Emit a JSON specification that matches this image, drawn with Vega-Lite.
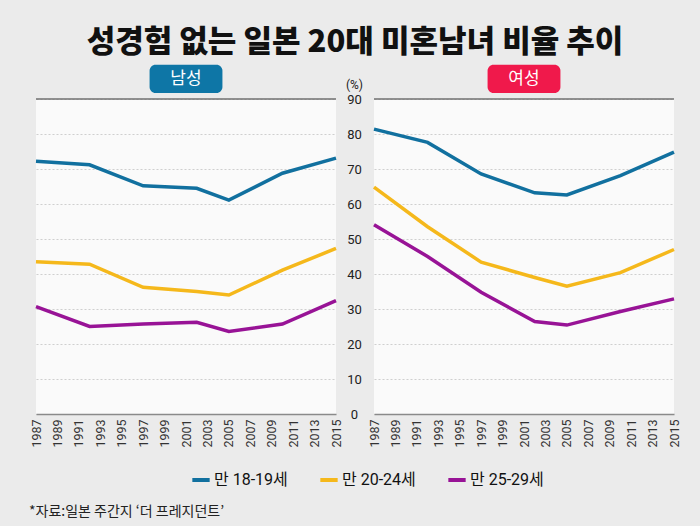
{
  "$schema": "https://vega.github.io/schema/vega-lite/v6.json",
  "background": "#ebebeb",
  "padding": {"left": 29, "top": 26, "right": 20, "bottom": 8},
  "datasets": {
    "rates": [
      {"sex": "남성", "age": "만 18-19세", "year": 1987, "value": 72.2},
      {"sex": "남성", "age": "만 18-19세", "year": 1992, "value": 71.2},
      {"sex": "남성", "age": "만 18-19세", "year": 1997, "value": 65.2},
      {"sex": "남성", "age": "만 18-19세", "year": 2002, "value": 64.5},
      {"sex": "남성", "age": "만 18-19세", "year": 2005, "value": 61.1},
      {"sex": "남성", "age": "만 18-19세", "year": 2010, "value": 68.8},
      {"sex": "남성", "age": "만 18-19세", "year": 2015, "value": 73.1},
      {"sex": "남성", "age": "만 20-24세", "year": 1987, "value": 43.5},
      {"sex": "남성", "age": "만 20-24세", "year": 1992, "value": 42.8},
      {"sex": "남성", "age": "만 20-24세", "year": 1997, "value": 36.2},
      {"sex": "남성", "age": "만 20-24세", "year": 2002, "value": 35.0},
      {"sex": "남성", "age": "만 20-24세", "year": 2005, "value": 34.0},
      {"sex": "남성", "age": "만 20-24세", "year": 2010, "value": 41.1},
      {"sex": "남성", "age": "만 20-24세", "year": 2015, "value": 47.3},
      {"sex": "남성", "age": "만 25-29세", "year": 1987, "value": 30.7},
      {"sex": "남성", "age": "만 25-29세", "year": 1992, "value": 25.0},
      {"sex": "남성", "age": "만 25-29세", "year": 1997, "value": 25.7},
      {"sex": "남성", "age": "만 25-29세", "year": 2002, "value": 26.2},
      {"sex": "남성", "age": "만 25-29세", "year": 2005, "value": 23.6},
      {"sex": "남성", "age": "만 25-29세", "year": 2010, "value": 25.7},
      {"sex": "남성", "age": "만 25-29세", "year": 2015, "value": 32.4},
      {"sex": "여성", "age": "만 18-19세", "year": 1987, "value": 81.4},
      {"sex": "여성", "age": "만 18-19세", "year": 1992, "value": 77.6},
      {"sex": "여성", "age": "만 18-19세", "year": 1997, "value": 68.6},
      {"sex": "여성", "age": "만 18-19세", "year": 2002, "value": 63.2},
      {"sex": "여성", "age": "만 18-19세", "year": 2005, "value": 62.6},
      {"sex": "여성", "age": "만 18-19세", "year": 2010, "value": 68.1},
      {"sex": "여성", "age": "만 18-19세", "year": 2015, "value": 74.8},
      {"sex": "여성", "age": "만 20-24세", "year": 1987, "value": 64.8},
      {"sex": "여성", "age": "만 20-24세", "year": 1992, "value": 53.5},
      {"sex": "여성", "age": "만 20-24세", "year": 1997, "value": 43.4},
      {"sex": "여성", "age": "만 20-24세", "year": 2002, "value": 39.0},
      {"sex": "여성", "age": "만 20-24세", "year": 2005, "value": 36.5},
      {"sex": "여성", "age": "만 20-24세", "year": 2010, "value": 40.4},
      {"sex": "여성", "age": "만 20-24세", "year": 2015, "value": 47.0},
      {"sex": "여성", "age": "만 25-29세", "year": 1987, "value": 54.1},
      {"sex": "여성", "age": "만 25-29세", "year": 1992, "value": 45.0},
      {"sex": "여성", "age": "만 25-29세", "year": 1997, "value": 34.8},
      {"sex": "여성", "age": "만 25-29세", "year": 2002, "value": 26.4},
      {"sex": "여성", "age": "만 25-29세", "year": 2005, "value": 25.4},
      {"sex": "여성", "age": "만 25-29세", "year": 2010, "value": 29.3},
      {"sex": "여성", "age": "만 25-29세", "year": 2015, "value": 32.9}
    ],
    "male_badge": [{"label": "남성"}],
    "female_badge": [{"label": "여성"}]
  },
  "title": {
    "text": "*자료:일본 주간지 ‘더 프레지던트’",
    "orient": "bottom",
    "anchor": "start",
    "fontSize": 14,
    "fontWeight": "normal",
    "color": "#222222",
    "offset": 17
  },
  "vconcat": [
    {
      "title": {
        "text": "성경험 없는 일본 20대 미혼남녀 비율 추이",
        "fontSize": 31,
        "fontWeight": 900,
        "color": "#111111",
        "anchor": "middle",
        "offset": 6
      },
      "bounds": "flush",
      "spacing": 38,
      "hconcat": [
        {
          "width": 300,
          "height": 315,
          "layer": [
            {
              "data": {"name": "rates"},
              "transform": [{"filter": "datum.sex === '남성'"}],
              "mark": {"type": "line", "strokeWidth": 3.5},
              "encoding": {
                "x": {
                  "field": "year",
                  "type": "quantitative",
                  "scale": {"domain": [1987, 2015], "nice": false, "zero": false},
                  "axis": {
                    "title": null,
                    "values": [1987, 1989, 1991, 1993, 1995, 1997, 1999, 2001, 2003, 2005, 2007, 2009, 2011, 2013, 2015],
                    "tickCount": 30,
                    "format": "d",
                    "labelAngle": 270,
                    "labelOverlap": false,
                    "grid": false,
                    "ticks": false,
                    "labelPadding": 5,
                    "labelFontSize": 12.5,
                    "labelColor": "#333333",
                    "domainColor": "#8a8a8a",
                    "domainWidth": 1.5
                  }
                },
                "y": {
                  "field": "value",
                  "type": "quantitative",
                  "scale": {"domain": [0, 90], "nice": false},
                  "axis": {
                    "title": null,
                    "values": [0, 10, 20, 30, 40, 50, 60, 70, 80, 90],
                    "tickCount": 20,
                    "labels": false,
                    "ticks": false,
                    "domain": false,
                    "grid": true,
                    "gridColor": "#cfcfcf",
                    "gridDash": [2, 2]
                  }
                },
                "color": {
                  "field": "age",
                  "type": "nominal",
                  "scale": {
                    "domain": ["만 18-19세", "만 20-24세", "만 25-29세"],
                    "range": ["#11709f", "#f5b81b", "#981396"]
                  },
                  "legend": {
                    "orient": "none",
                    "legendX": 154,
                    "legendY": 370,
                    "direction": "horizontal",
                    "title": null,
                    "symbolType": "stroke",
                    "symbolStrokeWidth": 4,
                    "symbolSize": 300,
                    "labelFontSize": 16,
                    "labelColor": "#111111",
                    "labelOffset": 2,
                    "columnPadding": 24
                  }
                }
              }
            },
            {
              "data": {"name": "male_badge"},
              "mark": {"type": "rule", "color": "#707070", "strokeWidth": 1.5},
              "encoding": {"y": {"datum": 90}}
            },
            {
              "data": {"name": "male_badge"},
              "mark": {"type": "rect", "color": "#0e76a6", "cornerRadius": 6},
              "encoding": {
                "x": {"datum": 1997.6},
                "x2": {"datum": 2004.4},
                "y": {"datum": 99.8},
                "y2": {"datum": 91.7}
              }
            },
            {
              "data": {"name": "male_badge"},
              "mark": {"type": "text", "color": "white", "fontSize": 17, "baseline": "middle", "align": "center"},
              "encoding": {
                "x": {"datum": 2001},
                "y": {"datum": 95.8},
                "text": {"field": "label"}
              }
            }
          ]
        },
        {
          "width": 300,
          "height": 315,
          "layer": [
            {
              "data": {"name": "rates"},
              "transform": [{"filter": "datum.sex === '여성'"}],
              "mark": {"type": "line", "strokeWidth": 3.5},
              "encoding": {
                "x": {
                  "field": "year",
                  "type": "quantitative",
                  "scale": {"domain": [1987, 2015], "nice": false, "zero": false},
                  "axis": {
                    "title": null,
                    "values": [1987, 1989, 1991, 1993, 1995, 1997, 1999, 2001, 2003, 2005, 2007, 2009, 2011, 2013, 2015],
                    "tickCount": 30,
                    "format": "d",
                    "labelAngle": 270,
                    "labelOverlap": false,
                    "grid": false,
                    "ticks": false,
                    "labelPadding": 5,
                    "labelFontSize": 12.5,
                    "labelColor": "#333333",
                    "domainColor": "#8a8a8a",
                    "domainWidth": 1.5
                  }
                },
                "y": {
                  "field": "value",
                  "type": "quantitative",
                  "scale": {"domain": [0, 90], "nice": false},
                  "axis": {
                    "title": "(%)",
                    "titleAngle": 0,
                    "titleX": -20,
                    "titleY": -15,
                    "titleAlign": "center",
                    "titleBaseline": "middle",
                    "titleFontSize": 12,
                    "titleFontWeight": "normal",
                    "titleColor": "#222222",
                    "values": [0, 10, 20, 30, 40, 50, 60, 70, 80, 90],
                    "tickCount": 20,
                    "labelOverlap": false,
                    "labelAlign": "center",
                    "labelPadding": 20,
                    "labelFontSize": 13,
                    "labelColor": "#222222",
                    "ticks": false,
                    "domain": false,
                    "grid": true,
                    "gridColor": "#cfcfcf",
                    "gridDash": [2, 2]
                  }
                },
                "color": {"field": "age", "type": "nominal"}
              }
            },
            {
              "data": {"name": "female_badge"},
              "mark": {"type": "rule", "color": "#707070", "strokeWidth": 1.5},
              "encoding": {"y": {"datum": 90}}
            },
            {
              "data": {"name": "female_badge"},
              "mark": {"type": "rect", "color": "#f0194b", "cornerRadius": 6},
              "encoding": {
                "x": {"datum": 1997.6},
                "x2": {"datum": 2004.4},
                "y": {"datum": 99.8},
                "y2": {"datum": 91.7}
              }
            },
            {
              "data": {"name": "female_badge"},
              "mark": {"type": "text", "color": "white", "fontSize": 17, "baseline": "middle", "align": "center"},
              "encoding": {
                "x": {"datum": 2001},
                "y": {"datum": 95.8},
                "text": {"field": "label"}
              }
            }
          ]
        }
      ]
    }
  ],
  "config": {
    "font": "Roboto, 'Noto Sans CJK KR', sans-serif",
    "title": {"font": "'Noto Sans CJK KR', sans-serif"},
    "view": {"fill": "#fafafa", "stroke": null}
  }
}
